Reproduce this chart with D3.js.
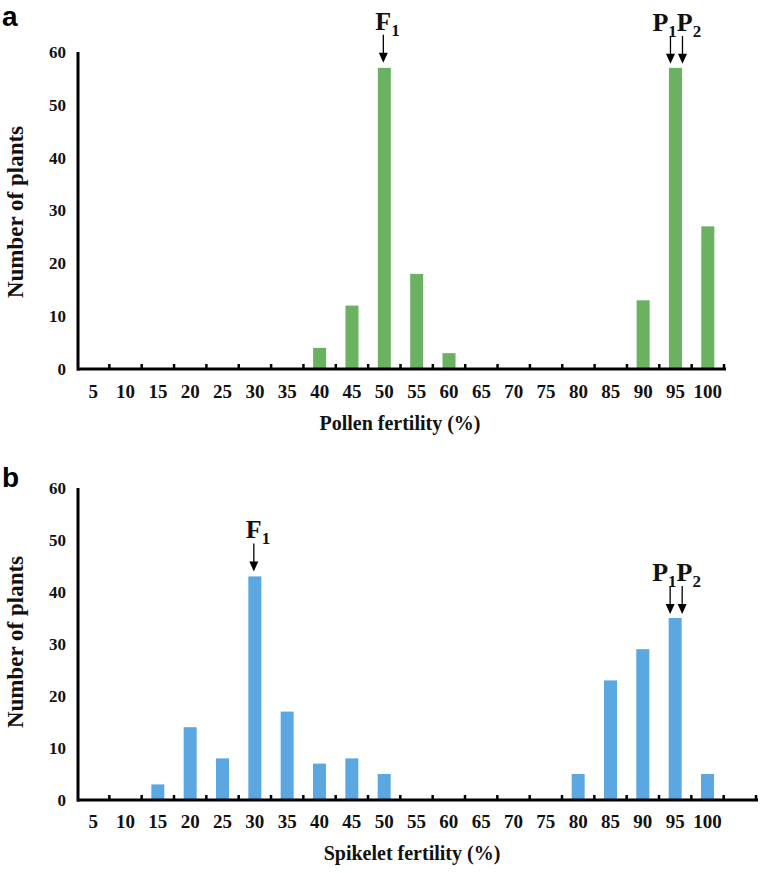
<!DOCTYPE html>
<html><head><meta charset="utf-8">
<script src="https://cdn.jsdelivr.net/npm/d3@7"></script>
<style>body{margin:0;background:#fff}svg{display:block}</style>
</head><body>
<svg id="chart" width="760" height="873"></svg>
<script>
// ---- data ----
const categoriesA = ["5","10","15","20","25","30","35","40","45","50","55","60","65","70","75","80","85","90","95","100"];
const pollenCounts = [0,0,0,0,0,0,0,4,12,57,18,3,0,0,0,0,0,13,57,27];
const categoriesB = ["5","10","15","20","25","30","35","40","45","50","55","60","65","70","75","80","85","90","95","100",""];
const spikeletCounts = [0,0,3,14,8,43,17,7,8,5,0,0,0,0,0,5,23,29,35,5,0];
const yTicks = [0,10,20,30,40,50,60];
const yMax = 60;
const titleA = "Pollen fertility (%)";
const titleB = "Spikelet fertility (%)";
const yTitle = "Number of plants";
const f1A = "50", parentsA = "95";
const f1B = "30", parentsB = "95";

const svg = d3.select("#chart");
const serif = "'Liberation Serif','Times New Roman',serif";
const sans = "'Liberation Sans',Arial,sans-serif";

function panel(o){
  const g = svg.append("g");
  const x = d3.scaleBand().domain(o.cats.map((c,i)=>i)).range([o.x0,o.x1]).paddingInner(0).paddingOuter(0);
  const y = d3.scaleLinear().domain([0,yMax]).range([o.yBottom,o.yTop]);
  const bw = 13;
  // bars
  g.selectAll("rect.bar").data(o.values).join("rect")
    .attr("x",(d,i)=>x(i)+x.bandwidth()/2-bw/2)
    .attr("width",bw)
    .attr("y",d=>y(d))
    .attr("height",d=>y(0)-y(d))
    .attr("fill",o.color);
  // y axis
  const yAxis = d3.axisLeft(y).tickValues(yTicks).tickSize(0).tickPadding(12);
  const ya = g.append("g").attr("transform",`translate(${o.x0+1},0)`).call(yAxis);
  ya.select(".domain").attr("stroke","#000").attr("stroke-width",3).attr("d",`M0,${o.yTop}V${o.yBottom+1.5}`);
  ya.selectAll("text").attr("font-family",serif).attr("font-weight","bold").attr("font-size",17).attr("fill","#111");
  // x axis line
  g.append("line").attr("x1",o.x0).attr("x2",o.x1+2).attr("y1",o.yBottom).attr("y2",o.yBottom)
    .attr("stroke","#000").attr("stroke-width",3);
  // boundary ticks
  const bounds = o.cats.map((c,i)=>x(i)+x.bandwidth());
  g.selectAll("line.tk").data(bounds).join("line")
    .attr("x1",d=>d).attr("x2",d=>d).attr("y1",o.yBottom-5).attr("y2",o.yBottom+1)
    .attr("stroke","#000").attr("stroke-width",2.5);
  // x labels
  g.selectAll("text.xl").data(o.cats).join("text")
    .attr("x",(d,i)=>x(i)+x.bandwidth()/2).attr("y",o.labelY)
    .attr("text-anchor","middle").attr("font-family",serif).attr("font-weight","bold")
    .attr("font-size",19).attr("fill","#111").text(d=>d);
  // x title
  g.append("text").attr("x",o.titleX).attr("y",o.titleY).attr("text-anchor","middle")
    .attr("font-family",serif).attr("font-weight","bold").attr("font-size",20).attr("fill","#111").text(o.title);
  // y title
  g.append("text").attr("transform",`translate(23,${o.yTitleY}) rotate(-90)`).attr("text-anchor","middle")
    .attr("font-family",serif).attr("font-weight","bold").attr("font-size",23).attr("fill","#111").text(yTitle);
  // panel letter
  g.append("text").attr("x",2).attr("y",o.letterY).attr("font-family",sans).attr("font-weight","bold")
    .attr("font-size",28).attr("fill","#000").text(o.letter);
  // arrows
  function arrow(cx, tipY, len){
    g.append("line").attr("x1",cx).attr("x2",cx).attr("y1",tipY-len).attr("y2",tipY-8)
      .attr("stroke","#000").attr("stroke-width",1.3);
    g.append("path").attr("d",`M${cx-4.5},${tipY-10}L${cx+4.5},${tipY-10}L${cx},${tipY}Z`).attr("fill","#000");
  }
  function label(xs, baseY, parts){
    const t = g.append("text").attr("x",xs).attr("y",baseY).attr("font-family",serif)
      .attr("font-weight","bold").attr("font-size",26).attr("fill","#111");
    parts.forEach(p=>{
      t.append("tspan").attr("font-size",p.sub?17:26).attr("dy",p.sub?6:(p.back?-6:0)).text(p.t);
    });
  }
  const iF = o.cats.indexOf(o.f1), iP = o.cats.indexOf(o.par);
  const cF = x(iF)+x.bandwidth()/2, cP = x(iP)+x.bandwidth()/2;
  const topF = y(o.values[iF]), topP = y(o.values[iP]);
  arrow(cF-1, topF-5, 28);
  label(cF-9, topF-38, [{t:"F"},{t:"1",sub:true}]);
  arrow(cP-5, topP-4, 28);
  arrow(cP+7, topP-4, 28);
  label(cP-23, topP-37, [{t:"P"},{t:"1",sub:true},{t:"P",back:true},{t:"2",sub:true}]);
}

panel({cats:categoriesA, values:pollenCounts, color:"#6ab162", x0:77, x1:724, yTop:52, yBottom:369,
  labelY:398, title:titleA, titleX:400, titleY:430, yTitleY:212, letter:"a", letterY:26, f1:f1A, par:parentsA});
panel({cats:categoriesB, values:spikeletCounts, color:"#5ba7e2", x0:77, x1:756, yTop:488, yBottom:800,
  labelY:828, title:titleB, titleX:412, titleY:860, yTitleY:642, letter:"b", letterY:487, f1:f1B, par:parentsB});
</script>
</body></html>
